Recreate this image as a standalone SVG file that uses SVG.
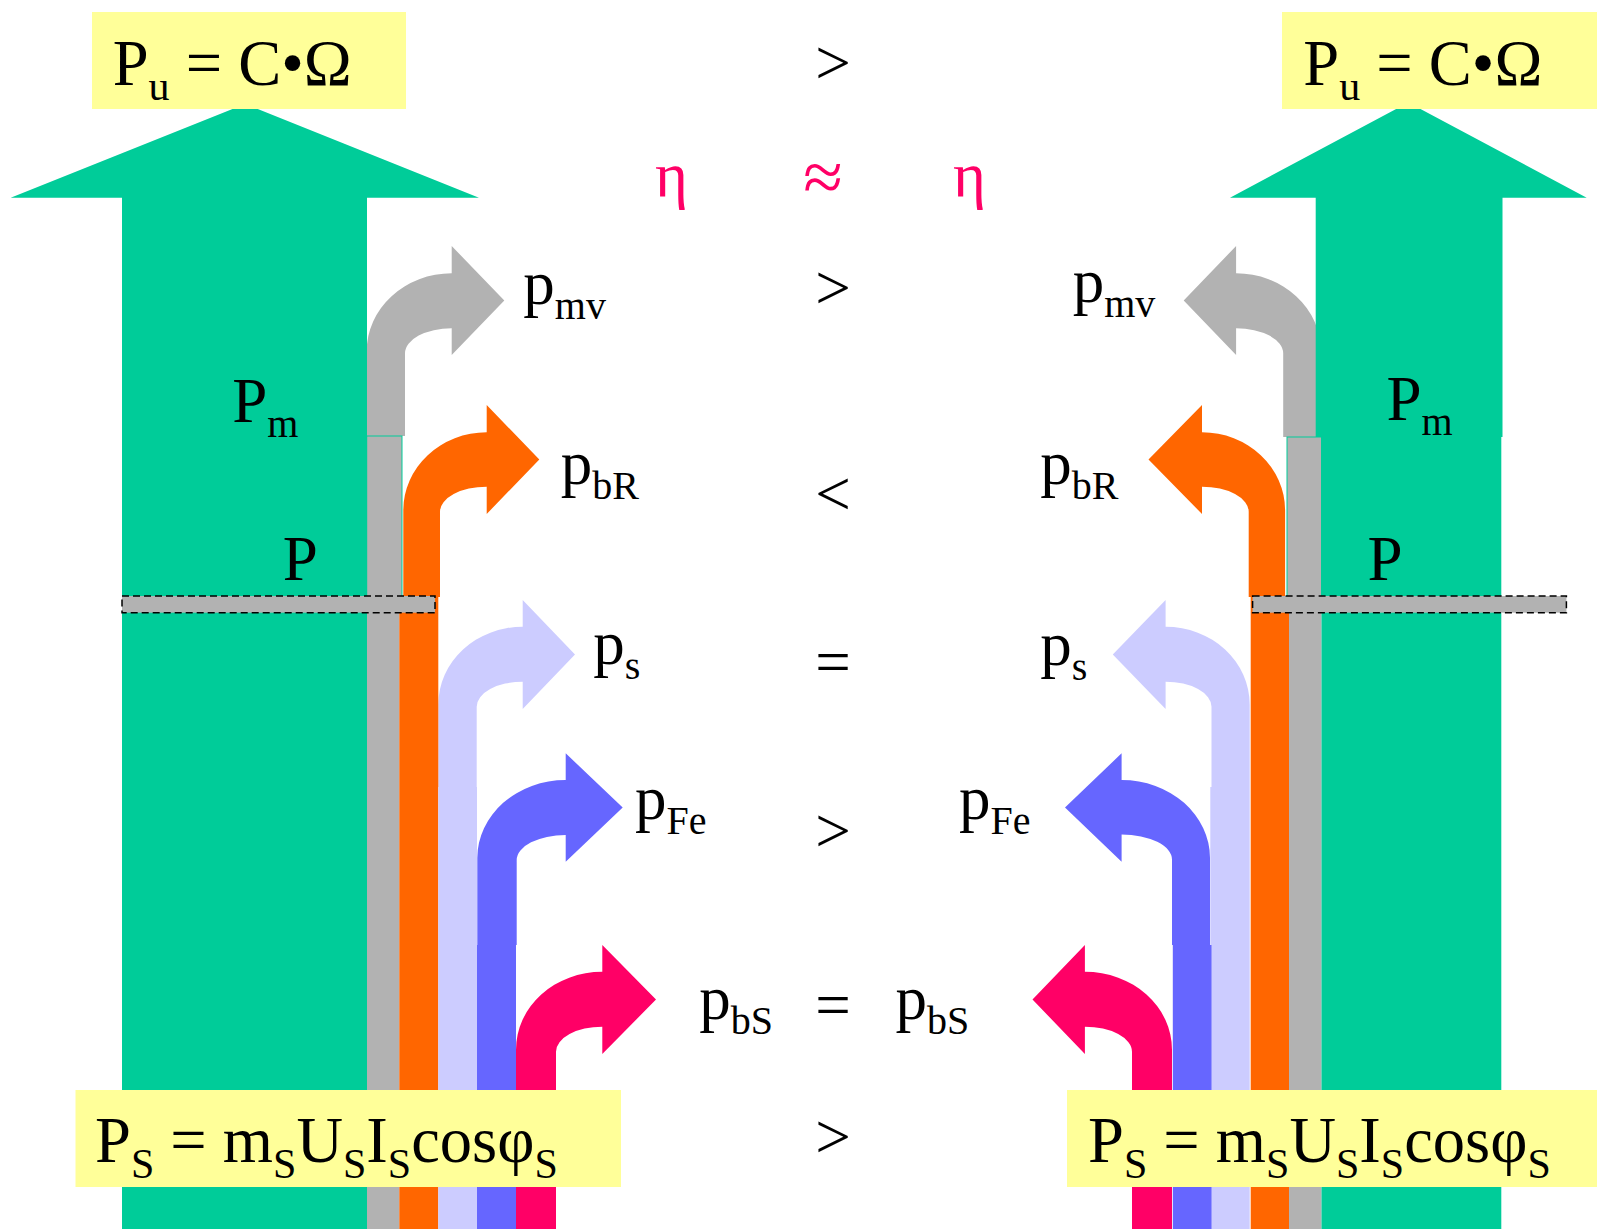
<svg xmlns="http://www.w3.org/2000/svg" width="1599" height="1229" viewBox="0 0 1599 1229">
<style>
text{font-family:"Liberation Serif","Times New Roman",serif;font-size:63px;fill:#000}
.sub{font-size:40px}
.box{font-size:64.5px}
.box .sub{font-size:42px}
.eta{fill:#FF0066}
.mid{text-anchor:middle}
.green{fill:#00CC99}
.yellow{fill:#FFFF99}
.gray{fill:#B2B2B2}
.orange{fill:#FF6600}
.lblue{fill:#CCCCFF}
.blue{fill:#6666FF}
.pink{fill:#FF0066}
.edge{stroke:#00CC99;stroke-width:1}
.bar{fill:#B2B2B2;stroke:#000;stroke-width:1.5;stroke-dasharray:7 4}
</style>
<rect width="1599" height="1229" fill="#fff"/>

<g id="flows">
  <!-- left machine -->
  <path id="l-pmv" class="gray" d="M366.7,436 V351.3 A85,78 0 0 1 451.7,273.3 V246 L504.3,300.5 L451.7,355 V328.3 A46.7,25 0 0 0 405,353.3 V436 Z"/>
  <path id="l-pbR" class="orange" d="M403.3,597 V510.3 A83.4,78 0 0 1 486.7,432.3 V405 L539.3,459.5 L486.7,514 V486.7 A46.7,25 0 0 0 440,511.7 V597 Z"/>
  <path id="l-ps" class="lblue" d="M438.3,787 V704.7 A84.4,78 0 0 1 522.7,626.7 V600 L575,654.5 L522.7,709 V681.7 A46,25 0 0 0 476.7,706.7 V787 Z"/>
  <path id="l-pFe" class="blue" d="M477.3,945 V858 A88.4,78 0 0 1 565.7,780 V753.3 L622.7,807.5 L565.7,861.7 V835 A49,25 0 0 0 516.7,860 V945 Z"/>
  <path id="l-pbS" class="pink" d="M516,1229 V1049.7 A86.3,78 0 0 1 602.3,971.7 V945 L656,999.5 L602.3,1054 V1026.7 A46.3,25 0 0 0 556,1051.7 V1229 Z"/>
  <rect class="gray edge" x="366.7" y="436" width="35.3" height="161"/>
  <rect class="gray" x="366.7" y="597" width="32.6" height="632"/>
  <rect class="orange" x="399.3" y="597" width="39" height="632"/>
  <rect class="lblue" x="438.3" y="787" width="38.7" height="442"/>
  <rect class="blue" x="477" y="945" width="39" height="284"/>
  <path id="l-main" class="green" d="M10.7,197.7 L245,104 L479,197.7 L367,197.7 L367,1229 L122,1229 L122,197.7 Z"/>

  <!-- right machine -->
  <path id="r-pmv" class="gray" d="M1321,437 V351.3 A84.9,78 0 0 0 1236.1,273.3 V246 L1183.7,300.5 L1236.1,355 V328.3 A47.1,25 0 0 1 1283.2,353.3 V437 Z"/>
  <path id="r-pbR" class="orange" d="M1285.1,597 V510.3 A83.1,78 0 0 0 1202,432.3 V405 L1148.5,459.5 L1202,514 V486.7 A46.7,25 0 0 1 1248.7,511.7 V597 Z"/>
  <path id="r-ps" class="lblue" d="M1249.7,787 V704.7 A84.1,78 0 0 0 1165.6,626.7 V600 L1112.8,654.5 L1165.6,709 V681.7 A45.9,25 0 0 1 1211.5,706.7 V787 Z"/>
  <path id="r-pFe" class="blue" d="M1210,945 V858 A88.4,78 0 0 0 1121.6,780 V753.3 L1065,807.5 L1121.6,861.7 V834.5 A50.4,25 0 0 1 1172,859.5 V945 Z"/>
  <path id="r-pbS" class="pink" d="M1172,1229 V1049.7 A87.1,78 0 0 0 1084.9,971.7 V945 L1032.5,999.5 L1084.9,1054 V1026.7 A47.1,25 0 0 1 1132,1051.7 V1229 Z"/>
  <rect class="gray edge" x="1287" y="437" width="34.5" height="160"/>
  <rect class="gray" x="1289" y="597" width="32.5" height="632"/>
  <rect class="orange" x="1250.7" y="597" width="38.3" height="632"/>
  <rect class="lblue" x="1210.3" y="787" width="39.4" height="442"/>
  <rect class="blue" x="1172.8" y="945" width="38.7" height="284"/>
  <path id="r-main" class="green" d="M1230,197.7 L1408.3,102.5 L1586.7,197.7 L1502.5,197.7 L1502.5,437 L1315.7,437 L1315.7,197.7 Z"/>
  <rect class="green" x="1321.5" y="437" width="179.8" height="792"/>
</g>

<g id="airgap-left"><rect class="bar" x="122" y="596" width="313" height="16.7"/></g>
<g id="airgap-right"><rect class="bar" x="1252.6" y="596" width="313.8" height="16.7"/></g>

<g id="box-pu-left">
  <rect class="yellow" x="92" y="12" width="314" height="97"/>
  <text class="box" x="112.7" y="85">P<tspan class="sub" dy="15">u</tspan><tspan dy="-15"> = C•Ω</tspan></text>
</g>
<g id="box-pu-right">
  <rect class="yellow" x="1282" y="12" width="315" height="97"/>
  <text class="box" x="1303.3" y="85">P<tspan class="sub" dy="15">u</tspan><tspan dy="-15"> = C•Ω</tspan></text>
</g>
<g id="box-ps-left">
  <rect class="yellow" x="75.5" y="1090" width="545.5" height="97"/>
  <text class="box" x="95" y="1162">P<tspan class="sub" dy="16">S</tspan><tspan dy="-16"> = m</tspan><tspan class="sub" dy="16">S</tspan><tspan dy="-16">U</tspan><tspan class="sub" dy="16">S</tspan><tspan dy="-16">I</tspan><tspan class="sub" dy="16">S</tspan><tspan dy="-16">cosφ</tspan><tspan class="sub" dy="16">S</tspan></text>
</g>
<g id="box-ps-right">
  <rect class="yellow" x="1067" y="1090" width="530" height="97"/>
  <text class="box" x="1088" y="1162">P<tspan class="sub" dy="16">S</tspan><tspan dy="-16"> = m</tspan><tspan class="sub" dy="16">S</tspan><tspan dy="-16">U</tspan><tspan class="sub" dy="16">S</tspan><tspan dy="-16">I</tspan><tspan class="sub" dy="16">S</tspan><tspan dy="-16">cosφ</tspan><tspan class="sub" dy="16">S</tspan></text>
</g>

<g id="labels-left">
  <text x="232.3" y="421.7">P<tspan class="sub" dy="15">m</tspan></text>
  <text x="282.7" y="580">P</text>
  <text x="523.3" y="304">p<tspan class="sub" dy="15">mv</tspan></text>
  <text x="560.7" y="484">p<tspan class="sub" dy="15">bR</tspan></text>
  <text x="593.3" y="664">p<tspan class="sub" dy="15">s</tspan></text>
  <text x="635" y="819">p<tspan class="sub" dy="15">Fe</tspan></text>
  <text x="699.3" y="1019">p<tspan class="sub" dy="15">bS</tspan></text>
</g>
<g id="labels-right">
  <text x="1386.5" y="420">P<tspan class="sub" dy="15">m</tspan></text>
  <text x="1367.4" y="580">P</text>
  <text x="1072.7" y="302">p<tspan class="sub" dy="15">mv</tspan></text>
  <text x="1040.2" y="484">p<tspan class="sub" dy="15">bR</tspan></text>
  <text x="1040.2" y="665">p<tspan class="sub" dy="15">s</tspan></text>
  <text x="959" y="819">p<tspan class="sub" dy="15">Fe</tspan></text>
  <text x="895.4" y="1019">p<tspan class="sub" dy="15">bS</tspan></text>
</g>
<g id="comparisons">
  <text class="mid" x="833" y="84">&gt;</text>
  <text class="eta" x="655" y="196">η</text>
  <text class="eta mid" x="823" y="201" style="font-size:72px">≈</text>
  <text class="eta" x="953" y="196">η</text>
  <text class="mid" x="833" y="309">&gt;</text>
  <text class="mid" x="833" y="515">&lt;</text>
  <text class="mid" x="833" y="683">=</text>
  <text class="mid" x="833" y="852">&gt;</text>
  <text class="mid" x="833" y="1026">=</text>
  <text class="mid" x="833" y="1158">&gt;</text>
</g>
</svg>
